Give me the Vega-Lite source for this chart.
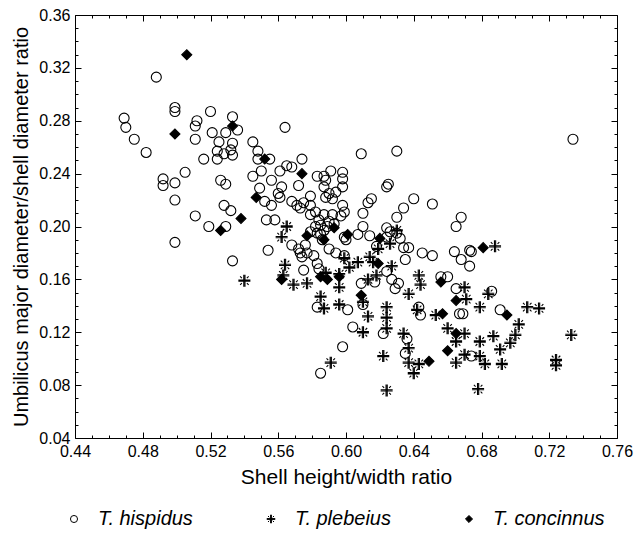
{
"$schema":"https://vega.github.io/schema/vega-lite/v6.json",
"width":542,"height":423,
"autosize":{"type":"none"},
"padding":{"left":75,"top":15,"right":23,"bottom":96},
"background":"white",
"config":{"view":{"stroke":"black","strokeWidth":1},"font":"Liberation Sans","axis":{"grid":false}},
"data":{"values":[
{"x":0.488,"y":0.313,"s":"T. hispidus"},{"x":0.499,"y":0.290,"s":"T. hispidus"},{"x":0.499,"y":0.287,"s":"T. hispidus"},{"x":0.520,"y":0.287,"s":"T. hispidus"},{"x":0.469,"y":0.282,"s":"T. hispidus"},{"x":0.470,"y":0.275,"s":"T. hispidus"},{"x":0.512,"y":0.280,"s":"T. hispidus"},{"x":0.511,"y":0.276,"s":"T. hispidus"},{"x":0.533,"y":0.283,"s":"T. hispidus"},{"x":0.536,"y":0.273,"s":"T. hispidus"},
{"x":0.475,"y":0.266,"s":"T. hispidus"},{"x":0.511,"y":0.266,"s":"T. hispidus"},{"x":0.521,"y":0.271,"s":"T. hispidus"},{"x":0.529,"y":0.271,"s":"T. hispidus"},{"x":0.525,"y":0.264,"s":"T. hispidus"},{"x":0.533,"y":0.263,"s":"T. hispidus"},{"x":0.482,"y":0.256,"s":"T. hispidus"},{"x":0.524,"y":0.257,"s":"T. hispidus"},{"x":0.524,"y":0.251,"s":"T. hispidus"},{"x":0.528,"y":0.255,"s":"T. hispidus"},
{"x":0.532,"y":0.258,"s":"T. hispidus"},{"x":0.533,"y":0.254,"s":"T. hispidus"},{"x":0.516,"y":0.251,"s":"T. hispidus"},{"x":0.545,"y":0.264,"s":"T. hispidus"},{"x":0.548,"y":0.257,"s":"T. hispidus"},{"x":0.548,"y":0.251,"s":"T. hispidus"},{"x":0.555,"y":0.251,"s":"T. hispidus"},{"x":0.550,"y":0.242,"s":"T. hispidus"},{"x":0.545,"y":0.238,"s":"T. hispidus"},{"x":0.556,"y":0.235,"s":"T. hispidus"},
{"x":0.561,"y":0.242,"s":"T. hispidus"},{"x":0.564,"y":0.275,"s":"T. hispidus"},{"x":0.505,"y":0.241,"s":"T. hispidus"},{"x":0.492,"y":0.236,"s":"T. hispidus"},{"x":0.492,"y":0.231,"s":"T. hispidus"},{"x":0.499,"y":0.233,"s":"T. hispidus"},{"x":0.499,"y":0.220,"s":"T. hispidus"},{"x":0.526,"y":0.235,"s":"T. hispidus"},{"x":0.529,"y":0.232,"s":"T. hispidus"},{"x":0.549,"y":0.229,"s":"T. hispidus"},
{"x":0.552,"y":0.219,"s":"T. hispidus"},{"x":0.556,"y":0.216,"s":"T. hispidus"},{"x":0.528,"y":0.216,"s":"T. hispidus"},{"x":0.532,"y":0.212,"s":"T. hispidus"},{"x":0.511,"y":0.208,"s":"T. hispidus"},{"x":0.553,"y":0.205,"s":"T. hispidus"},{"x":0.558,"y":0.205,"s":"T. hispidus"},{"x":0.565,"y":0.246,"s":"T. hispidus"},{"x":0.568,"y":0.245,"s":"T. hispidus"},{"x":0.574,"y":0.251,"s":"T. hispidus"},
{"x":0.519,"y":0.200,"s":"T. hispidus"},{"x":0.529,"y":0.200,"s":"T. hispidus"},{"x":0.499,"y":0.188,"s":"T. hispidus"},{"x":0.533,"y":0.174,"s":"T. hispidus"},{"x":0.562,"y":0.230,"s":"T. hispidus"},{"x":0.560,"y":0.225,"s":"T. hispidus"},{"x":0.561,"y":0.222,"s":"T. hispidus"},{"x":0.568,"y":0.219,"s":"T. hispidus"},{"x":0.571,"y":0.216,"s":"T. hispidus"},{"x":0.573,"y":0.214,"s":"T. hispidus"},
{"x":0.575,"y":0.218,"s":"T. hispidus"},{"x":0.572,"y":0.231,"s":"T. hispidus"},{"x":0.583,"y":0.238,"s":"T. hispidus"},{"x":0.587,"y":0.238,"s":"T. hispidus"},{"x":0.591,"y":0.242,"s":"T. hispidus"},{"x":0.598,"y":0.241,"s":"T. hispidus"},{"x":0.598,"y":0.236,"s":"T. hispidus"},{"x":0.587,"y":0.230,"s":"T. hispidus"},{"x":0.590,"y":0.225,"s":"T. hispidus"},{"x":0.594,"y":0.226,"s":"T. hispidus"},
{"x":0.598,"y":0.230,"s":"T. hispidus"},{"x":0.588,"y":0.235,"s":"T. hispidus"},{"x":0.579,"y":0.223,"s":"T. hispidus"},{"x":0.588,"y":0.222,"s":"T. hispidus"},{"x":0.592,"y":0.221,"s":"T. hispidus"},{"x":0.579,"y":0.216,"s":"T. hispidus"},{"x":0.582,"y":0.211,"s":"T. hispidus"},{"x":0.598,"y":0.216,"s":"T. hispidus"},{"x":0.599,"y":0.211,"s":"T. hispidus"},{"x":0.587,"y":0.209,"s":"T. hispidus"},
{"x":0.584,"y":0.205,"s":"T. hispidus"},{"x":0.592,"y":0.209,"s":"T. hispidus"},{"x":0.579,"y":0.209,"s":"T. hispidus"},{"x":0.597,"y":0.208,"s":"T. hispidus"},{"x":0.590,"y":0.204,"s":"T. hispidus"},{"x":0.593,"y":0.202,"s":"T. hispidus"},{"x":0.582,"y":0.200,"s":"T. hispidus"},{"x":0.585,"y":0.201,"s":"T. hispidus"},{"x":0.589,"y":0.200,"s":"T. hispidus"},{"x":0.583,"y":0.195,"s":"T. hispidus"},
{"x":0.587,"y":0.197,"s":"T. hispidus"},{"x":0.579,"y":0.196,"s":"T. hispidus"},{"x":0.585,"y":0.194,"s":"T. hispidus"},{"x":0.586,"y":0.190,"s":"T. hispidus"},{"x":0.599,"y":0.192,"s":"T. hispidus"},{"x":0.600,"y":0.190,"s":"T. hispidus"},{"x":0.607,"y":0.194,"s":"T. hispidus"},{"x":0.610,"y":0.200,"s":"T. hispidus"},{"x":0.614,"y":0.193,"s":"T. hispidus"},{"x":0.615,"y":0.221,"s":"T. hispidus"},
{"x":0.613,"y":0.218,"s":"T. hispidus"},{"x":0.610,"y":0.210,"s":"T. hispidus"},{"x":0.609,"y":0.255,"s":"T. hispidus"},{"x":0.630,"y":0.257,"s":"T. hispidus"},{"x":0.625,"y":0.232,"s":"T. hispidus"},{"x":0.624,"y":0.230,"s":"T. hispidus"},{"x":0.630,"y":0.207,"s":"T. hispidus"},{"x":0.624,"y":0.199,"s":"T. hispidus"},{"x":0.626,"y":0.196,"s":"T. hispidus"},{"x":0.630,"y":0.195,"s":"T. hispidus"},
{"x":0.618,"y":0.185,"s":"T. hispidus"},{"x":0.624,"y":0.192,"s":"T. hispidus"},{"x":0.594,"y":0.180,"s":"T. hispidus"},{"x":0.599,"y":0.178,"s":"T. hispidus"},{"x":0.568,"y":0.186,"s":"T. hispidus"},{"x":0.572,"y":0.183,"s":"T. hispidus"},{"x":0.576,"y":0.186,"s":"T. hispidus"},{"x":0.573,"y":0.180,"s":"T. hispidus"},{"x":0.577,"y":0.180,"s":"T. hispidus"},{"x":0.574,"y":0.177,"s":"T. hispidus"},
{"x":0.581,"y":0.178,"s":"T. hispidus"},{"x":0.590,"y":0.183,"s":"T. hispidus"},{"x":0.554,"y":0.182,"s":"T. hispidus"},{"x":0.583,"y":0.172,"s":"T. hispidus"},{"x":0.584,"y":0.168,"s":"T. hispidus"},{"x":0.575,"y":0.167,"s":"T. hispidus"},{"x":0.601,"y":0.137,"s":"T. hispidus"},{"x":0.604,"y":0.124,"s":"T. hispidus"},{"x":0.598,"y":0.109,"s":"T. hispidus"},{"x":0.585,"y":0.089,"s":"T. hispidus"},
{"x":0.583,"y":0.139,"s":"T. hispidus"},{"x":0.610,"y":0.141,"s":"T. hispidus"},{"x":0.622,"y":0.119,"s":"T. hispidus"},{"x":0.609,"y":0.157,"s":"T. hispidus"},{"x":0.617,"y":0.158,"s":"T. hispidus"},{"x":0.627,"y":0.160,"s":"T. hispidus"},{"x":0.624,"y":0.166,"s":"T. hispidus"},{"x":0.631,"y":0.157,"s":"T. hispidus"},{"x":0.629,"y":0.153,"s":"T. hispidus"},{"x":0.634,"y":0.184,"s":"T. hispidus"},
{"x":0.637,"y":0.184,"s":"T. hispidus"},{"x":0.635,"y":0.175,"s":"T. hispidus"},{"x":0.645,"y":0.180,"s":"T. hispidus"},{"x":0.651,"y":0.178,"s":"T. hispidus"},{"x":0.643,"y":0.139,"s":"T. hispidus"},{"x":0.644,"y":0.133,"s":"T. hispidus"},{"x":0.636,"y":0.115,"s":"T. hispidus"},{"x":0.635,"y":0.104,"s":"T. hispidus"},{"x":0.634,"y":0.214,"s":"T. hispidus"},{"x":0.640,"y":0.221,"s":"T. hispidus"},
{"x":0.651,"y":0.217,"s":"T. hispidus"},{"x":0.668,"y":0.207,"s":"T. hispidus"},{"x":0.665,"y":0.200,"s":"T. hispidus"},{"x":0.632,"y":0.191,"s":"T. hispidus"},{"x":0.664,"y":0.181,"s":"T. hispidus"},{"x":0.668,"y":0.175,"s":"T. hispidus"},{"x":0.673,"y":0.170,"s":"T. hispidus"},{"x":0.673,"y":0.182,"s":"T. hispidus"},{"x":0.674,"y":0.181,"s":"T. hispidus"},{"x":0.656,"y":0.162,"s":"T. hispidus"},
{"x":0.660,"y":0.162,"s":"T. hispidus"},{"x":0.665,"y":0.153,"s":"T. hispidus"},{"x":0.667,"y":0.134,"s":"T. hispidus"},{"x":0.669,"y":0.134,"s":"T. hispidus"},{"x":0.686,"y":0.151,"s":"T. hispidus"},{"x":0.691,"y":0.137,"s":"T. hispidus"},{"x":0.674,"y":0.102,"s":"T. hispidus"},{"x":0.734,"y":0.266,"s":"T. hispidus"},
{"x":0.565,"y":0.200,"s":"T. plebeius"},{"x":0.562,"y":0.192,"s":"T. plebeius"},{"x":0.564,"y":0.171,"s":"T. plebeius"},{"x":0.563,"y":0.163,"s":"T. plebeius"},{"x":0.540,"y":0.159,"s":"T. plebeius"},{"x":0.569,"y":0.156,"s":"T. plebeius"},{"x":0.577,"y":0.157,"s":"T. plebeius"},{"x":0.585,"y":0.147,"s":"T. plebeius"},{"x":0.587,"y":0.138,"s":"T. plebeius"},{"x":0.596,"y":0.141,"s":"T. plebeius"},
{"x":0.596,"y":0.154,"s":"T. plebeius"},{"x":0.596,"y":0.164,"s":"T. plebeius"},{"x":0.588,"y":0.165,"s":"T. plebeius"},{"x":0.599,"y":0.176,"s":"T. plebeius"},{"x":0.602,"y":0.169,"s":"T. plebeius"},{"x":0.607,"y":0.173,"s":"T. plebeius"},{"x":0.614,"y":0.177,"s":"T. plebeius"},{"x":0.616,"y":0.173,"s":"T. plebeius"},{"x":0.619,"y":0.183,"s":"T. plebeius"},{"x":0.626,"y":0.187,"s":"T. plebeius"},
{"x":0.627,"y":0.170,"s":"T. plebeius"},{"x":0.613,"y":0.160,"s":"T. plebeius"},{"x":0.618,"y":0.163,"s":"T. plebeius"},{"x":0.610,"y":0.143,"s":"T. plebeius"},{"x":0.613,"y":0.132,"s":"T. plebeius"},{"x":0.610,"y":0.120,"s":"T. plebeius"},{"x":0.624,"y":0.139,"s":"T. plebeius"},{"x":0.624,"y":0.131,"s":"T. plebeius"},{"x":0.624,"y":0.123,"s":"T. plebeius"},{"x":0.622,"y":0.102,"s":"T. plebeius"},
{"x":0.624,"y":0.076,"s":"T. plebeius"},{"x":0.591,"y":0.097,"s":"T. plebeius"},{"x":0.630,"y":0.197,"s":"T. plebeius"},{"x":0.643,"y":0.163,"s":"T. plebeius"},{"x":0.644,"y":0.156,"s":"T. plebeius"},{"x":0.637,"y":0.149,"s":"T. plebeius"},{"x":0.642,"y":0.137,"s":"T. plebeius"},{"x":0.653,"y":0.133,"s":"T. plebeius"},{"x":0.634,"y":0.119,"s":"T. plebeius"},{"x":0.637,"y":0.108,"s":"T. plebeius"},
{"x":0.637,"y":0.097,"s":"T. plebeius"},{"x":0.640,"y":0.089,"s":"T. plebeius"},{"x":0.643,"y":0.096,"s":"T. plebeius"},{"x":0.688,"y":0.185,"s":"T. plebeius"},{"x":0.670,"y":0.154,"s":"T. plebeius"},{"x":0.671,"y":0.145,"s":"T. plebeius"},{"x":0.684,"y":0.149,"s":"T. plebeius"},{"x":0.679,"y":0.139,"s":"T. plebeius"},{"x":0.707,"y":0.139,"s":"T. plebeius"},{"x":0.714,"y":0.138,"s":"T. plebeius"},
{"x":0.660,"y":0.123,"s":"T. plebeius"},{"x":0.670,"y":0.119,"s":"T. plebeius"},{"x":0.665,"y":0.113,"s":"T. plebeius"},{"x":0.679,"y":0.113,"s":"T. plebeius"},{"x":0.687,"y":0.117,"s":"T. plebeius"},{"x":0.700,"y":0.118,"s":"T. plebeius"},{"x":0.697,"y":0.112,"s":"T. plebeius"},{"x":0.702,"y":0.126,"s":"T. plebeius"},{"x":0.691,"y":0.107,"s":"T. plebeius"},{"x":0.679,"y":0.102,"s":"T. plebeius"},
{"x":0.665,"y":0.097,"s":"T. plebeius"},{"x":0.670,"y":0.103,"s":"T. plebeius"},{"x":0.692,"y":0.096,"s":"T. plebeius"},{"x":0.682,"y":0.096,"s":"T. plebeius"},{"x":0.733,"y":0.118,"s":"T. plebeius"},{"x":0.724,"y":0.099,"s":"T. plebeius"},{"x":0.724,"y":0.095,"s":"T. plebeius"},{"x":0.678,"y":0.077,"s":"T. plebeius"},
{"x":0.506,"y":0.330,"s":"T. concinnus"},{"x":0.499,"y":0.270,"s":"T. concinnus"},{"x":0.533,"y":0.276,"s":"T. concinnus"},{"x":0.552,"y":0.251,"s":"T. concinnus"},{"x":0.547,"y":0.222,"s":"T. concinnus"},{"x":0.538,"y":0.206,"s":"T. concinnus"},{"x":0.526,"y":0.197,"s":"T. concinnus"},{"x":0.574,"y":0.240,"s":"T. concinnus"},{"x":0.577,"y":0.193,"s":"T. concinnus"},{"x":0.587,"y":0.190,"s":"T. concinnus"},
{"x":0.593,"y":0.199,"s":"T. concinnus"},{"x":0.601,"y":0.194,"s":"T. concinnus"},{"x":0.620,"y":0.191,"s":"T. concinnus"},{"x":0.619,"y":0.172,"s":"T. concinnus"},{"x":0.681,"y":0.184,"s":"T. concinnus"},{"x":0.656,"y":0.158,"s":"T. concinnus"},{"x":0.562,"y":0.160,"s":"T. concinnus"},{"x":0.585,"y":0.162,"s":"T. concinnus"},{"x":0.589,"y":0.160,"s":"T. concinnus"},{"x":0.596,"y":0.162,"s":"T. concinnus"},
{"x":0.609,"y":0.148,"s":"T. concinnus"},{"x":0.649,"y":0.098,"s":"T. concinnus"},{"x":0.665,"y":0.144,"s":"T. concinnus"},{"x":0.657,"y":0.134,"s":"T. concinnus"},{"x":0.695,"y":0.133,"s":"T. concinnus"},{"x":0.665,"y":0.119,"s":"T. concinnus"},{"x":0.660,"y":0.106,"s":"T. concinnus"}
]},
"layer":[
{
"mark":{"type":"point","opacity":0},
"encoding":{
"x":{"field":"x","type":"quantitative","scale":{"domain":[0.44,0.76],"nice":false,"zero":false},
"axis":{"orient":"bottom","values":[0.44,0.45,0.46,0.47,0.48,0.49,0.5,0.51,0.52,0.53,0.54,0.55,0.56,0.57,0.58,0.59,0.6,0.61,0.62,0.63,0.64,0.65,0.66,0.67,0.68,0.69,0.7,0.71,0.72,0.73,0.74,0.75,0.76],"labels":false,"domain":false,"title":null,"tickColor":"black","tickWidth":1,"tickSize":{"condition":{"test":"round(datum.value*100) % 4 == 0","value":-6},"value":-3}}},
"y":{"field":"y","type":"quantitative","scale":{"domain":[0.04,0.36],"nice":false,"zero":false},
"axis":{"orient":"left","values":[0.04,0.05,0.06,0.07,0.08,0.09,0.1,0.11,0.12,0.13,0.14,0.15,0.16,0.17,0.18,0.19,0.2,0.21,0.22,0.23,0.24,0.25,0.26,0.27,0.28,0.29,0.3,0.31,0.32,0.33,0.34,0.35,0.36],"labels":false,"domain":false,"title":null,"tickColor":"black","tickWidth":1,"tickSize":{"condition":{"test":"round(datum.value*100) % 4 == 0","value":-6},"value":-3}}}
}
},
{
"mark":{"type":"point","opacity":0},
"encoding":{
"x":{"field":"x","type":"quantitative","scale":{"domain":[0.44,0.76],"nice":false,"zero":false},
"axis":{"orient":"top","values":[0.44,0.45,0.46,0.47,0.48,0.49,0.5,0.51,0.52,0.53,0.54,0.55,0.56,0.57,0.58,0.59,0.6,0.61,0.62,0.63,0.64,0.65,0.66,0.67,0.68,0.69,0.7,0.71,0.72,0.73,0.74,0.75,0.76],"labels":false,"domain":false,"title":null,"tickColor":"black","tickWidth":1,"tickSize":{"condition":{"test":"round(datum.value*100) % 4 == 0","value":-6},"value":-3}}},
"y":{"field":"y","type":"quantitative","scale":{"domain":[0.04,0.36],"nice":false,"zero":false},
"axis":{"orient":"right","values":[0.04,0.05,0.06,0.07,0.08,0.09,0.1,0.11,0.12,0.13,0.14,0.15,0.16,0.17,0.18,0.19,0.2,0.21,0.22,0.23,0.24,0.25,0.26,0.27,0.28,0.29,0.3,0.31,0.32,0.33,0.34,0.35,0.36],"labels":false,"domain":false,"title":null,"tickColor":"black","tickWidth":1,"tickSize":{"condition":{"test":"round(datum.value*100) % 4 == 0","value":-6},"value":-3}}}
}
},
{
"mark":{"type":"point","strokeWidth":1.1,"size":100,"opacity":1},
"encoding":{
"x":{"field":"x","type":"quantitative","scale":{"domain":[0.44,0.76],"nice":false,"zero":false},
"axis":{"orient":"bottom","values":[0.44,0.48,0.52,0.56,0.6,0.64,0.68,0.72,0.76],"format":".2f","ticks":false,"domain":false,"labelFontSize":16,"labelPadding":5,"labelColor":"black","labelFlush":false,"title":"Shell height/width ratio","titleFontSize":21,"titleFontWeight":"normal","titleColor":"black","titlePadding":7}},
"y":{"field":"y","type":"quantitative","scale":{"domain":[0.04,0.36],"nice":false,"zero":false},
"axis":{"orient":"left","values":[0.04,0.08,0.12,0.16,0.2,0.24,0.28,0.32,0.36],"format":".2f","ticks":false,"domain":false,"labelFontSize":16,"labelPadding":5,"labelColor":"black","labelFlush":false,"title":"Umbilicus major diameter/shell diameter ratio","titleFontSize":20,"titleFontWeight":"normal","titleColor":"black","titlePadding":7}},
"shape":{"field":"s","type":"nominal","scale":{"domain":["T. hispidus","T. plebeius","T. concinnus"],"range":["circle","M-0.12,-1.2L-0.12,1.2M0.12,-1.2L0.12,1.2M-1.2,-0.12L1.2,-0.12M-1.2,0.12L1.2,0.12M-0.85,-0.85L-0.5,-0.5M0.5,-0.5L0.85,-0.85M-0.85,0.85L-0.5,0.5M0.5,0.5L0.85,0.85","diamond"]},
"legend":{"title":null,"orient":"none","legendX":-11,"legendY":494,"direction":"horizontal","labelFontSize":20,"labelFontStyle":"italic","labelColor":"black","labelOffset":14,"columnPadding":68,"symbolSize":50,"symbolStrokeWidth":1}},
"fill":{"field":"s","type":"nominal","scale":{"domain":["T. hispidus","T. plebeius","T. concinnus"],"range":["transparent","transparent","black"]},
"legend":{"title":null,"orient":"none","legendX":-11,"legendY":494,"direction":"horizontal","labelFontSize":20,"labelFontStyle":"italic","labelColor":"black","labelOffset":14,"columnPadding":68,"symbolSize":50,"symbolStrokeWidth":1}},
"stroke":{"field":"s","type":"nominal","scale":{"domain":["T. hispidus","T. plebeius","T. concinnus"],"range":["black","black","black"]},
"legend":{"title":null,"orient":"none","legendX":-11,"legendY":494,"direction":"horizontal","labelFontSize":20,"labelFontStyle":"italic","labelColor":"black","labelOffset":14,"columnPadding":68,"symbolSize":50,"symbolStrokeWidth":1}}
}
}
],
"resolve":{"axis":{"x":"independent","y":"independent"}}
}
